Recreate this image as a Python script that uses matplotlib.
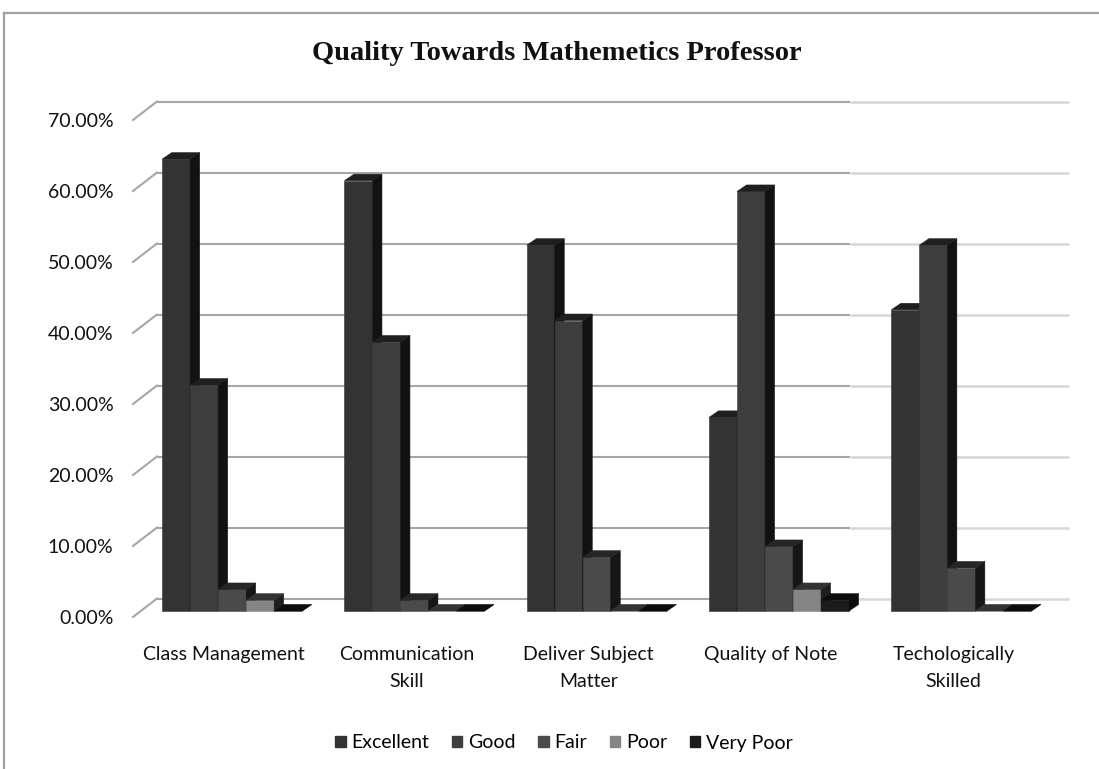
import matplotlib
matplotlib.use("Agg")
import matplotlib.pyplot as plt
from matplotlib.patches import Polygon, Rectangle, Patch
from matplotlib.lines import Line2D

# ---------------- data ----------------
categories = ["Class Management", "Communication\nSkill", "Deliver Subject\nMatter",
              "Quality of Note", "Techologically\nSkilled"]
series = ["Excellent", "Good", "Fair", "Poor", "Very Poor"]
excellent = [63.64, 60.61, 51.52, 27.27, 42.42]
good = [31.82, 37.88, 40.91, 59.09, 51.52]
fair = [3.03, 1.52, 7.58, 9.09, 6.06]
poor = [1.52, 0.0, 0.0, 3.03, 0.0]
very_poor = [0.0, 0.0, 0.0, 1.52, 0.0]
yticks = [0, 10, 20, 30, 40, 50, 60, 70]
values = [excellent, good, fair, poor, very_poor]

# ---------------- style ----------------
front_col = ['#333333', '#3d3d3d', '#4a4a4a', '#858585', '#1c1c1c']
side_col = ['#121212', '#121212', '#161616', '#1e1e1e', '#0a0a0a']
top_col = ['#1f1f1f', '#1f1f1f', '#262626', '#333333', '#0c0c0c']
legend_col = ['#333333', '#3d3d3d', '#4a4a4a', '#858585', '#1c1c1c']
font = 'Lato'

W, H = 1099, 769
fig = plt.figure(figsize=(W / 100, H / 100), dpi=100)
fig.patch.set_facecolor('white')

# front plane in pixels
xl_px, xr_px = 133, 1044.5
y0_px, ytop_px = 617, 120
ax = fig.add_axes([xl_px / W, 1 - y0_px / H, (xr_px - xl_px) / W, (y0_px - ytop_px) / H])
ax.set_xlim(0, len(categories))
ax.set_ylim(0, 70)
xu = (xr_px - xl_px) / len(categories)   # px per category unit
yu = (y0_px - ytop_px) / 70.0            # px per percent

# depth offsets (px -> data units)
wall_dx, wall_dy = 24 / xu, 18.5 / yu
bar_fx, bar_fy = 8 / xu, 6 / yu
bd_x, bd_y = 9.5 / xu, 6.5 / yu
bw = 28 / xu
group_w = bw * len(series)
gap = (1 - group_w) / 2

for s in ax.spines.values():
    s.set_visible(False)

# gridlines on back wall + slanted left edges
split = (850 - xl_px) / xu
for v in yticks:
    ax.plot([0, wall_dx], [v, v + wall_dy], color='#a6a6a6', lw=1.5, clip_on=False, zorder=1)
    ax.plot([wall_dx, split], [v + wall_dy, v + wall_dy], color='#a6a6a6', lw=1.5,
            clip_on=False, zorder=1, solid_capstyle='butt')
    ax.plot([split, len(categories) + wall_dx], [v + wall_dy, v + wall_dy], color='#d6d6d6',
            lw=1.8, clip_on=False, zorder=1, solid_capstyle='butt')

# 3D-looking bars
z = 2
for ci in range(len(categories)):
    for si, vals in enumerate(values):
        v = vals[ci]
        x = ci + gap + si * bw + bar_fx
        b = bar_fy
        kw = dict(clip_on=False, lw=0.4, zorder=z)
        ax.add_patch(Rectangle((x, b), bw, v, facecolor=front_col[si], edgecolor=front_col[si], **kw))
        ax.add_patch(Polygon([(x + bw, b), (x + bw + bd_x, b + bd_y), (x + bw + bd_x, b + bd_y + v),
                              (x + bw, b + v)], closed=True, facecolor=side_col[si],
                             edgecolor=side_col[si], **kw))
        ax.add_patch(Polygon([(x, b + v), (x + bw, b + v), (x + bw + bd_x, b + v + bd_y),
                              (x + bd_x, b + v + bd_y)], closed=True, facecolor=top_col[si],
                             edgecolor=top_col[si], **kw))
        z += 1

# ticks
ax.set_yticks(yticks)
ax.set_yticklabels([f"{v:.2f}%" for v in yticks], fontsize=14, family=font, color='#111111')
ax.set_xticks([i + 0.5 for i in range(len(categories))])
ax.set_xticklabels(categories, fontsize=14, family=font, color='#111111', linespacing=1.7,
                   va='top')
ax.tick_params(axis='y', length=0, pad=14)
ax.tick_params(axis='x', length=0, pad=21)
ax.set_facecolor('none')

# title
fig.text(557 / W, 1 - 54 / H, "Quality Towards Mathemetics Professor", ha='center', va='center',
         family='Liberation Serif', weight='bold', fontsize=20.5, color='#111111')

# legend
handles = [Patch(facecolor=c, edgecolor=c) for c in legend_col]
fig.legend(handles, series, loc='center', bbox_to_anchor=(564 / W, 1 - 743 / H), ncol=5,
           frameon=False, prop={'family': font, 'size': 14}, handlelength=0.55,
           handleheight=0.55, handletextpad=0.3, columnspacing=1.15)

# outer frame (top and left visible)
fig.add_artist(Line2D([4 / W, 1.0], [1 - 13 / H, 1 - 13 / H], color='#a0a0a0', lw=1.6,
                      transform=fig.transFigure))
fig.add_artist(Line2D([4 / W, 4 / W], [0, 1 - 13 / H], color='#a0a0a0', lw=1.6,
                      transform=fig.transFigure))

fig.savefig("out.png", dpi=100, facecolor='white')
